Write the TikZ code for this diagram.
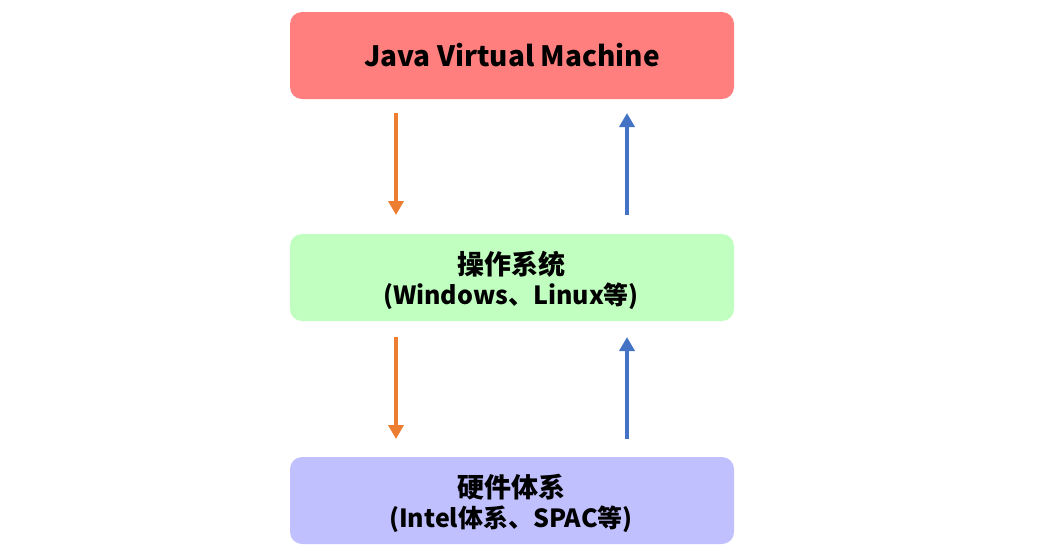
\documentclass[tikz,border=0pt]{standalone}
\usepackage{fontspec}
\setmainfont{Noto Sans CJK SC}
\usetikzlibrary{arrows.meta}
\definecolor{jvmred}{HTML}{FF7F7F}
\definecolor{osgreen}{HTML}{C0FFC0}
\definecolor{hwblue}{HTML}{C0C0FF}
\definecolor{arrorange}{HTML}{ED7D31}
\definecolor{arrblue}{HTML}{4472C4}
\tikzset{
  layer/.style={rounded corners=12pt, minimum width=444pt, minimum height=87pt, inner sep=0pt, font=\bfseries, align=center},
  down/.style={arrorange, line width=4pt, -{Triangle[length=14pt,width=15pt]}},
  up/.style={arrblue, line width=4pt, -{Triangle[length=14pt,width=15pt]}},
  lineA/.style={font=\bfseries\fontsize{27}{30}\selectfont},
  lineB/.style={font=\bfseries\fontsize{25}{30}\selectfont},
}
\begin{document}
\begin{tikzpicture}[x=1pt,y=-1pt]
\useasboundingbox (0,0) rectangle (1043,558);
\node[layer, fill=jvmred] (jvm) at (512,55.5) {};
\node[layer, fill=osgreen] (os) at (512,277.5) {};
\node[layer, fill=hwblue] (hw) at (512,500.5) {};
\node[lineA, font=\bfseries\fontsize{28}{30}\selectfont] (jvmt) at (512,55) {Java Virtual Machine};
\node[lineA] (ost1) at (511,264) {操作系统};
\node[lineB] (ost2) at (511,296) {(Windows、Linux等)};
\node[lineA] (hwt1) at (511,487) {硬件体系};
\node[lineB] (hwt2) at (511,519) {(Intel体系、SPAC等)};
\coordinate (a1s) at (396,113); \coordinate (a1e) at (396,215);
\coordinate (b1s) at (627,215); \coordinate (b1e) at (627,113);
\coordinate (a2s) at (396,337); \coordinate (a2e) at (396,439);
\coordinate (b2s) at (627,439); \coordinate (b2e) at (627,337);
\draw[down] (a1s) -- (a1e);
\draw[up] (b1s) -- (b1e);
\draw[down] (a2s) -- (a2e);
\draw[up] (b2s) -- (b2e);
\end{tikzpicture}
\end{document}
